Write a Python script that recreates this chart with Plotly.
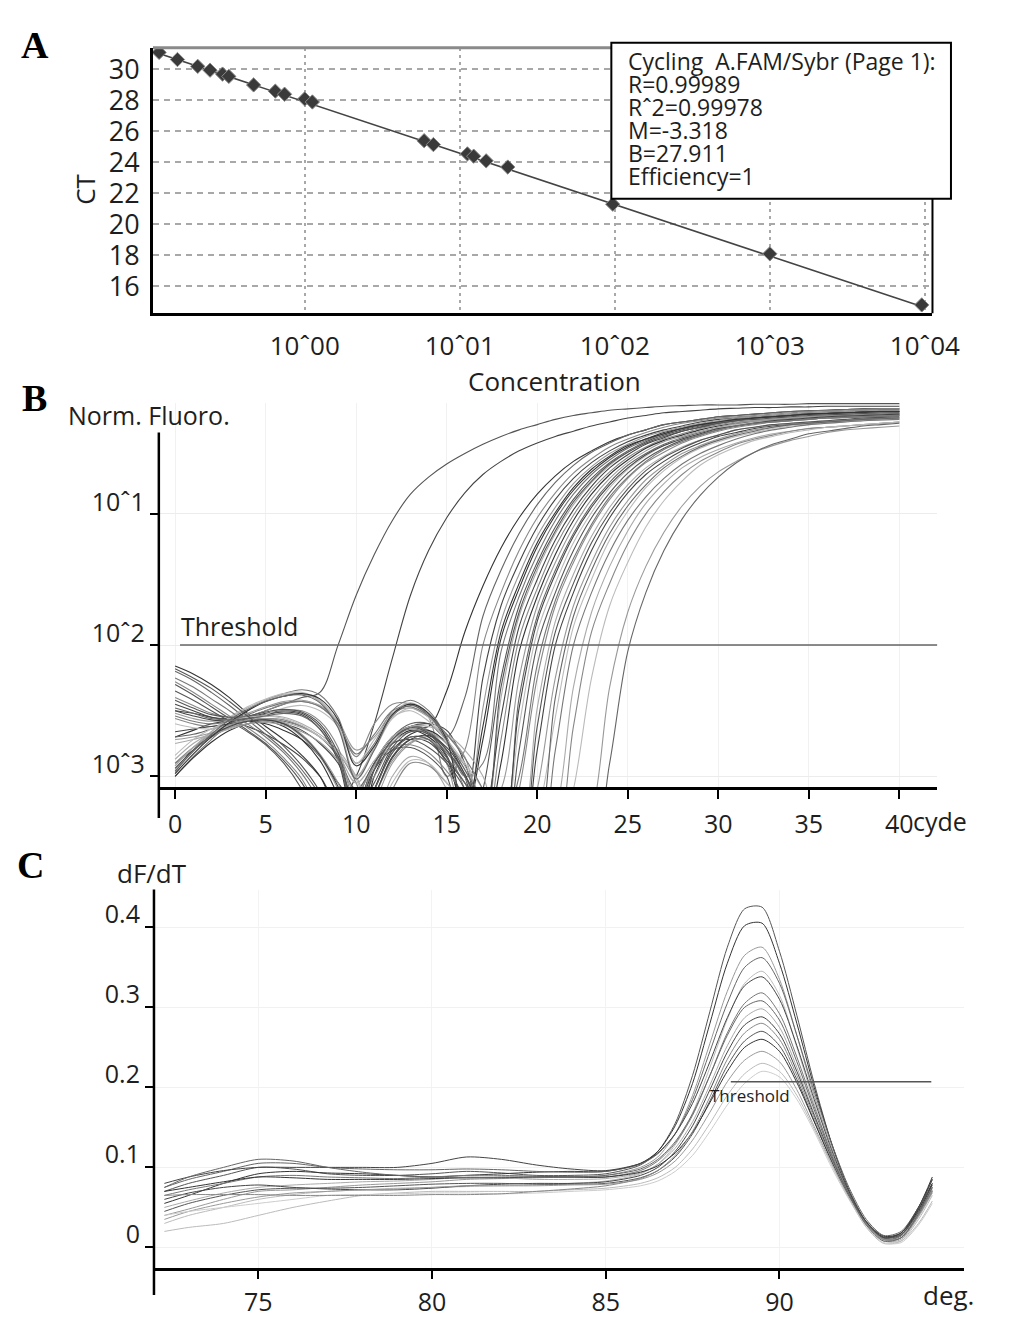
import numpy as np
import plotly.graph_objects as go

# ---------------- Panel A: standard curve ----------------
std_conc = [0.115, 0.151, 0.204, 0.245, 0.295, 0.324, 0.468, 0.646, 0.741, 1.0, 1.12,
            5.89, 6.76, 11.2, 12.3, 14.8, 20.4, 97, 1000, 9550]
std_ct = [31.1, 30.64, 30.2, 29.95, 29.7, 29.55, 29.0, 28.6, 28.4, 28.1, 27.9,
          25.4, 25.15, 24.55, 24.4, 24.1, 23.7, 21.3, 18.1, 14.8]
fit_m = -3.318
fit_b = 27.911
fit_span = [0.105, 9550]
conc_ticks = [1, 10, 100, 1000, 10000]
conc_labels = ["10ˆ00", "10ˆ01", "10ˆ02", "10ˆ03", "10ˆ04"]
ct_ticks = [16, 18, 20, 22, 24, 26, 28, 30]
info_lines = ["Cycling  A.FAM/Sybr (Page 1):", "R=0.99989", "Rˆ2=0.99978",
              "M=-3.318", "B=27.911", "Efficiency=1"]

# ---------------- Panel B: amplification curves (log10 of norm. fluoro, cycles 0..40) ----------------
amp_01 = [-2.9, -2.8, -2.7, -2.62, -2.55, -2.5, -2.45, -2.4, -2.36, -2.0, -1.62, -1.31, -1.05, -0.85, -0.72, -0.62, -0.54,
          -0.47, -0.41, -0.36, -0.32, -0.28, -0.25, -0.23, -0.21, -0.2, -0.19, -0.18, -0.175, -0.17, -0.17, -0.17,
          -0.165, -0.165, -0.165, -0.16, -0.16, -0.16, -0.16, -0.16, -0.16]
amp_02 = [-2.5, -2.52, -2.55, -2.58, -2.62, -2.68, -2.76, -2.86, -3.0, -3.2, -3.0, -2.6, -2.1, -1.62, -1.28, -1.03, -0.84,
          -0.7, -0.6, -0.52, -0.46, -0.41, -0.37, -0.33, -0.3, -0.27, -0.25, -0.23, -0.22, -0.21, -0.2, -0.195,
          -0.19, -0.19, -0.185, -0.185, -0.18, -0.18, -0.18, -0.18, -0.18]
amp_03 = [-2.7, -2.65, -2.6, -2.58, -2.58, -2.6, -2.65, -2.72, -2.85, -3.05, -3.2, -2.9, -2.7, -2.62, -2.62, -2.35, -1.9,
          -1.55, -1.26, -1.03, -0.85, -0.71, -0.6, -0.52, -0.45, -0.4, -0.36, -0.32, -0.3, -0.28, -0.26, -0.25,
          -0.24, -0.23, -0.22, -0.215, -0.21, -0.205, -0.2, -0.2, -0.2]
amp_04 = [-2.7, -2.68, -2.64, -2.6, -2.56, -2.56, -2.58, -2.62, -2.7, -2.85, -3.1, -2.9, -2.7, -2.6, -2.6, -2.7, -2.4,
          -1.78, -1.43, -1.15, -0.93, -0.76, -0.63, -0.53, -0.46, -0.4, -0.36, -0.32, -0.3, -0.28, -0.26, -0.25,
          -0.24, -0.23, -0.22, -0.215, -0.21, -0.205, -0.2, -0.2, -0.2]
amp_05 = [-2.56, -2.6, -2.62, -2.6, -2.55, -2.5, -2.45, -2.43, -2.47, -2.6, -2.85, -2.6, -2.45, -2.45, -2.55, -3.0, -2.8,
          -2.0, -1.6, -1.28, -1.03, -0.84, -0.69, -0.58, -0.49, -0.43, -0.38, -0.34, -0.31, -0.29, -0.27, -0.26,
          -0.25, -0.24, -0.23, -0.22, -0.215, -0.21, -0.205, -0.2, -0.2]
amp_06 = [-2.45, -2.5, -2.55, -2.56, -2.55, -2.52, -2.5, -2.52, -2.62, -2.85, -3.3, -3.1, -2.8, -2.7, -2.72, -2.9, -3.2,
          -2.25, -1.7, -1.37, -1.1, -0.89, -0.73, -0.61, -0.52, -0.45, -0.4, -0.36, -0.33, -0.3, -0.28, -0.27,
          -0.26, -0.25, -0.24, -0.23, -0.225, -0.22, -0.215, -0.21, -0.21]
amp_07 = [-2.97, -2.8, -2.7, -2.62, -2.58, -2.56, -2.6, -2.7, -2.85, -3.1, -3.4, -3.2, -2.9, -2.75, -2.7, -2.9, -3.4,
          -2.48, -1.82, -1.46, -1.17, -0.95, -0.77, -0.64, -0.54, -0.47, -0.41, -0.37, -0.34, -0.31, -0.29, -0.27,
          -0.26, -0.25, -0.24, -0.23, -0.225, -0.22, -0.215, -0.21, -0.21]
amp_08 = [-2.16, -2.22, -2.3, -2.4, -2.52, -2.62, -2.72, -2.84, -3.0, -3.3, -3.5, -3.0, -2.75, -2.65, -2.7, -2.85, -3.3,
          -2.72, -1.95, -1.57, -1.25, -1.01, -0.82, -0.68, -0.57, -0.49, -0.43, -0.38, -0.35, -0.32, -0.3, -0.28,
          -0.27, -0.26, -0.25, -0.24, -0.235, -0.23, -0.225, -0.22, -0.22]
amp_09 = [-3.0, -2.85, -2.72, -2.6, -2.5, -2.42, -2.37, -2.34, -2.38, -2.55, -2.9, -2.75, -2.5, -2.42, -2.5, -2.7, -3.0,
          -2.9, -2.05, -1.63, -1.31, -1.05, -0.85, -0.7, -0.59, -0.5, -0.44, -0.39, -0.35, -0.32, -0.3, -0.28,
          -0.27, -0.26, -0.25, -0.24, -0.235, -0.23, -0.225, -0.22, -0.22]
amp_10 = [-2.3, -2.38, -2.47, -2.56, -2.65, -2.75, -2.88, -3.05, -3.3, -3.5, -3.3, -2.95, -2.8, -2.78, -2.85, -3.0, -3.5,
          -3.1, -2.25, -1.7, -1.37, -1.1, -0.89, -0.73, -0.61, -0.52, -0.45, -0.4, -0.36, -0.33, -0.31, -0.29,
          -0.27, -0.26, -0.25, -0.24, -0.235, -0.23, -0.225, -0.22, -0.22]
amp_11 = [-2.87, -2.75, -2.67, -2.6, -2.56, -2.54, -2.55, -2.6, -2.68, -2.8, -3.0, -3.3, -3.0, -2.85, -2.9, -3.1, -3.5,
          -3.4, -2.4, -1.78, -1.43, -1.15, -0.93, -0.76, -0.63, -0.53, -0.46, -0.41, -0.37, -0.34, -0.31, -0.29,
          -0.28, -0.27, -0.26, -0.25, -0.245, -0.24, -0.235, -0.23, -0.23]
amp_12 = [-2.66, -2.64, -2.62, -2.6, -2.58, -2.57, -2.6, -2.65, -2.75, -2.9, -3.2, -2.95, -2.72, -2.62, -2.6, -2.65, -2.9,
          -3.3, -2.55, -1.86, -1.5, -1.2, -0.97, -0.79, -0.65, -0.55, -0.47, -0.42, -0.37, -0.34, -0.31, -0.29,
          -0.27, -0.26, -0.25, -0.24, -0.235, -0.23, -0.225, -0.22, -0.22]
amp_13 = [-2.4, -2.46, -2.52, -2.55, -2.55, -2.53, -2.5, -2.5, -2.58, -2.78, -3.2, -3.0, -2.75, -2.62, -2.65, -2.8, -3.1,
          -3.5, -2.72, -1.95, -1.57, -1.25, -1.01, -0.82, -0.68, -0.57, -0.49, -0.43, -0.39, -0.35, -0.32, -0.3,
          -0.29, -0.28, -0.27, -0.26, -0.25, -0.245, -0.24, -0.235, -0.23]
amp_14 = [-3.0, -2.86, -2.74, -2.65, -2.6, -2.58, -2.62, -2.72, -2.88, -3.15, -3.5, -3.1, -2.82, -2.68, -2.65, -2.75, -3.0,
          -3.5, -2.9, -2.05, -1.63, -1.31, -1.05, -0.85, -0.7, -0.59, -0.5, -0.44, -0.4, -0.36, -0.33, -0.31,
          -0.3, -0.29, -0.28, -0.27, -0.26, -0.25, -0.245, -0.24, -0.24]
amp_15 = [-2.52, -2.56, -2.58, -2.56, -2.52, -2.47, -2.43, -2.42, -2.46, -2.58, -2.8, -2.7, -2.52, -2.48, -2.55, -2.68, -2.85,
          -3.3, -3.1, -2.25, -1.7, -1.37, -1.1, -0.89, -0.73, -0.61, -0.52, -0.45, -0.41, -0.37, -0.34, -0.31,
          -0.29, -0.28, -0.27, -0.26, -0.25, -0.245, -0.24, -0.235, -0.23]
amp_16 = [-2.2, -2.27, -2.36, -2.46, -2.57, -2.68, -2.8, -2.95, -3.15, -3.5, -3.3, -2.9, -2.7, -2.62, -2.66, -2.8, -3.0,
          -3.4, -3.4, -2.4, -1.78, -1.43, -1.15, -0.93, -0.76, -0.63, -0.54, -0.47, -0.42, -0.38, -0.35, -0.32,
          -0.3, -0.29, -0.28, -0.27, -0.26, -0.255, -0.25, -0.245, -0.24]
amp_17 = [-2.95, -2.8, -2.66, -2.55, -2.47, -2.41, -2.37, -2.36, -2.42, -2.6, -3.0, -2.8, -2.56, -2.48, -2.55, -2.75, -3.0,
          -3.3, -3.5, -2.62, -1.9, -1.53, -1.22, -0.99, -0.8, -0.66, -0.56, -0.48, -0.43, -0.39, -0.35, -0.32,
          -0.3, -0.29, -0.28, -0.27, -0.26, -0.255, -0.25, -0.245, -0.24]
amp_18 = [-2.35, -2.42, -2.5, -2.58, -2.66, -2.76, -2.9, -3.1, -3.4, -3.5, -3.2, -2.9, -2.75, -2.72, -2.78, -2.9, -3.1,
          -3.5, -3.6, -2.8, -2.0, -1.6, -1.28, -1.03, -0.84, -0.69, -0.58, -0.5, -0.44, -0.4, -0.36, -0.33,
          -0.31, -0.3, -0.29, -0.28, -0.27, -0.265, -0.26, -0.255, -0.25]
amp_19 = [-2.9, -2.78, -2.7, -2.63, -2.58, -2.56, -2.57, -2.62, -2.7, -2.82, -3.05, -3.4, -3.1, -2.9, -2.92, -3.05, -3.2,
          -3.5, -3.6, -3.1, -2.25, -1.7, -1.37, -1.1, -0.89, -0.73, -0.61, -0.53, -0.46, -0.41, -0.37, -0.34,
          -0.32, -0.3, -0.29, -0.28, -0.27, -0.265, -0.26, -0.255, -0.25]
amp_20 = [-2.75, -2.72, -2.68, -2.64, -2.6, -2.58, -2.59, -2.63, -2.7, -2.83, -3.05, -2.88, -2.7, -2.62, -2.62, -2.68, -2.8,
          -3.0, -3.4, -3.4, -2.48, -1.82, -1.46, -1.17, -0.95, -0.78, -0.65, -0.56, -0.49, -0.44, -0.4, -0.36,
          -0.34, -0.32, -0.31, -0.3, -0.29, -0.28, -0.27, -0.265, -0.26]
amp_21 = [-2.5, -2.54, -2.57, -2.58, -2.56, -2.53, -2.51, -2.53, -2.64, -2.88, -3.35, -3.15, -2.85, -2.72, -2.74, -2.88, -3.05,
          -3.3, -3.5, -3.6, -2.8, -2.0, -1.6, -1.28, -1.03, -0.84, -0.7, -0.6, -0.52, -0.46, -0.41, -0.38,
          -0.35, -0.33, -0.32, -0.31, -0.3, -0.29, -0.28, -0.275, -0.27]
amp_22 = [-2.92, -2.78, -2.68, -2.61, -2.57, -2.56, -2.59, -2.68, -2.83, -3.05, -3.35, -3.15, -2.88, -2.74, -2.72, -2.82, -3.0,
          -3.3, -3.5, -3.6, -3.1, -2.25, -1.7, -1.37, -1.1, -0.9, -0.74, -0.63, -0.54, -0.48, -0.43, -0.39,
          -0.36, -0.34, -0.32, -0.31, -0.3, -0.29, -0.28, -0.275, -0.27]
amp_23 = [-2.6, -2.63, -2.64, -2.62, -2.58, -2.53, -2.48, -2.46, -2.5, -2.62, -2.9, -2.72, -2.55, -2.5, -2.58, -2.72, -2.9,
          -3.1, -3.4, -3.6, -3.3, -2.55, -1.86, -1.5, -1.2, -0.98, -0.8, -0.67, -0.57, -0.5, -0.45, -0.41,
          -0.38, -0.35, -0.33, -0.32, -0.31, -0.3, -0.29, -0.285, -0.28]
amp_24 = [-2.25, -2.32, -2.41, -2.5, -2.6, -2.7, -2.82, -2.98, -3.2, -3.5, -3.35, -2.95, -2.72, -2.64, -2.68, -2.82, -3.0,
          -3.2, -3.45, -3.6, -3.6, -2.8, -2.0, -1.6, -1.29, -1.05, -0.87, -0.73, -0.62, -0.54, -0.48, -0.43,
          -0.39, -0.36, -0.34, -0.32, -0.31, -0.3, -0.29, -0.285, -0.28]
amp_25 = [-2.92, -2.78, -2.66, -2.56, -2.48, -2.42, -2.38, -2.37, -2.43, -2.62, -3.0, -2.78, -2.52, -2.44, -2.52, -2.72, -2.95,
          -3.2, -3.5, -3.6, -3.6, -3.3, -2.32, -1.75, -1.4, -1.13, -0.92, -0.77, -0.65, -0.57, -0.51, -0.46,
          -0.42, -0.39, -0.37, -0.35, -0.34, -0.33, -0.32, -0.31, -0.3]
amp_26 = [-2.28, -2.36, -2.45, -2.54, -2.63, -2.73, -2.86, -3.02, -3.28, -3.5, -3.3, -2.92, -2.78, -2.76, -2.82, -2.96, -3.15,
          -3.4, -3.6, -3.6, -3.6, -3.5, -2.62, -1.9, -1.53, -1.23, -1.0, -0.83, -0.7, -0.6, -0.53, -0.47,
          -0.43, -0.4, -0.37, -0.35, -0.34, -0.33, -0.32, -0.31, -0.3]
amp_27 = [-2.84, -2.72, -2.64, -2.58, -2.55, -2.54, -2.56, -2.61, -2.7, -2.82, -3.02, -3.35, -3.05, -2.88, -2.9, -3.05, -3.25,
          -3.5, -3.6, -3.6, -3.6, -3.6, -3.1, -2.25, -1.7, -1.37, -1.1, -0.9, -0.75, -0.63, -0.55, -0.49,
          -0.44, -0.41, -0.38, -0.36, -0.34, -0.33, -0.32, -0.31, -0.3]
amp_28 = [-2.72, -2.7, -2.67, -2.63, -2.6, -2.59, -2.61, -2.66, -2.74, -2.88, -3.12, -2.92, -2.74, -2.66, -2.66, -2.75, -2.92,
          -3.2, -3.5, -3.6, -3.6, -3.6, -3.6, -3.3, -2.32, -1.75, -1.4, -1.14, -0.94, -0.79, -0.68, -0.6,
          -0.53, -0.48, -0.44, -0.41, -0.38, -0.36, -0.35, -0.34, -0.33]
amp_29 = [-2.48, -2.52, -2.56, -2.57, -2.56, -2.54, -2.52, -2.54, -2.64, -2.86, -3.3, -3.1, -2.82, -2.7, -2.72, -2.86, -3.05,
          -3.3, -3.6, -3.6, -3.6, -3.6, -3.6, -3.6, -2.9, -2.05, -1.6, -1.28, -1.04, -0.86, -0.72, -0.61,
          -0.53, -0.47, -0.43, -0.39, -0.37, -0.35, -0.33, -0.32, -0.31]
amp_30 = [-2.98, -2.83, -2.7, -2.59, -2.5, -2.43, -2.39, -2.37, -2.41, -2.57, -2.92, -2.77, -2.53, -2.45, -2.52, -2.72, -3.3,
          -2.62, -1.9, -1.53, -1.22, -0.99, -0.8, -0.66, -0.56, -0.48, -0.43, -0.39, -0.35, -0.32, -0.3, -0.28,
          -0.27, -0.26, -0.25, -0.24, -0.235, -0.23, -0.225, -0.22, -0.22]
amp_31 = [-2.42, -2.48, -2.53, -2.55, -2.54, -2.51, -2.49, -2.51, -2.6, -2.82, -3.25, -3.05, -2.78, -2.66, -2.68, -2.84, -3.2,
          -3.3, -2.32, -1.75, -1.4, -1.13, -0.91, -0.75, -0.62, -0.53, -0.46, -0.41, -0.37, -0.34, -0.31, -0.29,
          -0.28, -0.27, -0.26, -0.25, -0.245, -0.24, -0.235, -0.23, -0.23]
amp_32 = [-2.94, -2.8, -2.69, -2.62, -2.58, -2.57, -2.6, -2.69, -2.84, -3.08, -3.4, -3.15, -2.86, -2.72, -2.69, -2.78, -2.98,
          -3.3, -3.4, -2.48, -1.82, -1.46, -1.17, -0.95, -0.78, -0.65, -0.55, -0.48, -0.43, -0.39, -0.35, -0.33,
          -0.31, -0.29, -0.28, -0.27, -0.26, -0.255, -0.25, -0.245, -0.24]
amp_33 = [-2.54, -2.58, -2.6, -2.58, -2.53, -2.48, -2.44, -2.43, -2.47, -2.6, -2.83, -2.68, -2.5, -2.47, -2.54, -2.68, -2.86,
          -3.1, -3.4, -3.0, -2.15, -1.66, -1.34, -1.08, -0.87, -0.72, -0.6, -0.51, -0.45, -0.4, -0.36, -0.33,
          -0.31, -0.3, -0.29, -0.28, -0.27, -0.265, -0.26, -0.255, -0.25]
amp_34 = [-2.18, -2.25, -2.33, -2.43, -2.54, -2.65, -2.77, -2.92, -3.12, -3.45, -3.4, -2.95, -2.72, -2.63, -2.67, -2.8, -3.0,
          -3.25, -3.5, -3.5, -2.62, -1.9, -1.53, -1.22, -0.99, -0.81, -0.67, -0.57, -0.5, -0.44, -0.4, -0.36,
          -0.34, -0.32, -0.31, -0.3, -0.29, -0.28, -0.27, -0.265, -0.26]
amp_35 = [-2.96, -2.81, -2.68, -2.57, -2.49, -2.43, -2.39, -2.38, -2.44, -2.63, -3.02, -2.8, -2.54, -2.46, -2.53, -2.73, -2.95,
          -3.2, -3.5, -3.6, -3.45, -2.4, -1.78, -1.43, -1.15, -0.94, -0.78, -0.65, -0.56, -0.49, -0.44, -0.4,
          -0.37, -0.34, -0.32, -0.31, -0.3, -0.29, -0.28, -0.275, -0.27]
amp_curves = [amp_01, amp_02, amp_03, amp_04, amp_05, amp_06, amp_07, amp_08, amp_09, amp_10,
              amp_11, amp_12, amp_13, amp_14, amp_15, amp_16, amp_17, amp_18, amp_19, amp_20,
              amp_21, amp_22, amp_23, amp_24, amp_25, amp_26, amp_27, amp_28, amp_29, amp_30,
              amp_31, amp_32, amp_33, amp_34, amp_35]
amp_colors = ["#555", "#444", "#333", "#666", "#888", "#444", "#999", "#333", "#777", "#555",
              "#aaa", "#444", "#888", "#333", "#999", "#666", "#bbb", "#555", "#888", "#aaa",
              "#444", "#999", "#bbb", "#777", "#aaa", "#888", "#bbb", "#999", "#666", "#333",
              "#555", "#444", "#777", "#555", "#666"]
amp_threshold = 0.01
amp_threshold_from = 0.27
fluoro_ticks = [0.1, 0.01, 0.001]
fluoro_labels = ["10ˆ1", "10ˆ2", "10ˆ3"]
cycle_ticks = [0, 5, 10, 15, 20, 25, 30, 35, 40]

# ---------------- Panel C: melt curves ----------------
melt_temp = [72.3, 73, 74, 75, 76, 77, 78, 79, 80, 81, 82, 83, 84, 85, 86, 86.5, 87, 87.5, 88, 88.5,
             89, 89.5, 90, 90.5, 91, 91.5, 92, 92.5, 93, 93.5, 94, 94.4]
melt_01 = [0.07, 0.08, 0.09, 0.1, 0.098, 0.092, 0.09, 0.09, 0.092, 0.095, 0.093, 0.09, 0.09, 0.092, 0.103, 0.12,
           0.155, 0.215, 0.295, 0.375, 0.423, 0.425, 0.37, 0.29, 0.205, 0.13, 0.07, 0.03, 0.01, 0.015, 0.048, 0.085]
melt_02 = [0.055, 0.065, 0.08, 0.092, 0.095, 0.093, 0.092, 0.09, 0.088, 0.09, 0.092, 0.094, 0.095, 0.095, 0.105, 0.12,
           0.152, 0.205, 0.28, 0.355, 0.402, 0.405, 0.355, 0.28, 0.2, 0.13, 0.072, 0.032, 0.012, 0.018, 0.05, 0.088]
melt_03 = [0.04, 0.048, 0.06, 0.07, 0.072, 0.075, 0.078, 0.08, 0.082, 0.085, 0.086, 0.087, 0.088, 0.09, 0.1, 0.113,
           0.142, 0.19, 0.255, 0.32, 0.365, 0.375, 0.335, 0.265, 0.19, 0.125, 0.07, 0.03, 0.01, 0.012, 0.04, 0.07]
melt_04 = [0.075, 0.085, 0.095, 0.105, 0.105, 0.1, 0.098, 0.097, 0.097, 0.098, 0.097, 0.095, 0.094, 0.095, 0.104, 0.117,
           0.142, 0.185, 0.245, 0.305, 0.35, 0.362, 0.33, 0.265, 0.195, 0.13, 0.075, 0.035, 0.015, 0.02, 0.05, 0.08]
melt_05 = [0.03, 0.04, 0.05, 0.06, 0.066, 0.07, 0.072, 0.074, 0.075, 0.076, 0.077, 0.078, 0.08, 0.083, 0.092, 0.104,
           0.128, 0.168, 0.225, 0.285, 0.33, 0.345, 0.315, 0.25, 0.18, 0.115, 0.062, 0.025, 0.005, 0.008, 0.035, 0.065]
melt_06 = [0.065, 0.072, 0.08, 0.088, 0.09, 0.088, 0.087, 0.086, 0.088, 0.09, 0.09, 0.089, 0.088, 0.088, 0.096, 0.108,
           0.13, 0.165, 0.215, 0.268, 0.305, 0.318, 0.292, 0.238, 0.176, 0.118, 0.068, 0.03, 0.01, 0.014, 0.042, 0.072]
melt_07 = [0.05, 0.058, 0.068, 0.075, 0.078, 0.08, 0.082, 0.083, 0.085, 0.088, 0.087, 0.085, 0.085, 0.086, 0.093, 0.104,
           0.124, 0.157, 0.203, 0.252, 0.287, 0.298, 0.275, 0.225, 0.167, 0.112, 0.065, 0.028, 0.008, 0.01, 0.038, 0.068]
melt_08 = [0.06, 0.068, 0.075, 0.078, 0.075, 0.073, 0.072, 0.072, 0.074, 0.077, 0.079, 0.08, 0.08, 0.082, 0.09, 0.1,
           0.12, 0.152, 0.197, 0.244, 0.278, 0.288, 0.267, 0.22, 0.165, 0.112, 0.066, 0.03, 0.012, 0.016, 0.045, 0.078]
melt_09 = [0.045, 0.055, 0.065, 0.072, 0.074, 0.074, 0.075, 0.077, 0.079, 0.08, 0.08, 0.079, 0.079, 0.08, 0.087, 0.096,
           0.113, 0.142, 0.183, 0.227, 0.258, 0.27, 0.252, 0.21, 0.158, 0.108, 0.064, 0.03, 0.012, 0.016, 0.044, 0.075]
melt_10 = [0.07, 0.075, 0.082, 0.088, 0.087, 0.085, 0.085, 0.085, 0.086, 0.087, 0.087, 0.088, 0.088, 0.088, 0.094, 0.102,
           0.118, 0.144, 0.181, 0.22, 0.25, 0.26, 0.245, 0.206, 0.157, 0.108, 0.065, 0.032, 0.014, 0.018, 0.047, 0.08]
melt_11 = [0.035, 0.045, 0.055, 0.063, 0.068, 0.07, 0.072, 0.073, 0.075, 0.077, 0.077, 0.077, 0.078, 0.079, 0.085, 0.093,
           0.108, 0.134, 0.169, 0.207, 0.234, 0.245, 0.232, 0.197, 0.151, 0.105, 0.062, 0.028, 0.01, 0.012, 0.04, 0.07]
melt_12 = [0.02, 0.025, 0.03, 0.04, 0.05, 0.058, 0.065, 0.068, 0.07, 0.07, 0.07, 0.07, 0.072, 0.074, 0.08, 0.087,
           0.1, 0.123, 0.155, 0.19, 0.217, 0.23, 0.22, 0.19, 0.148, 0.103, 0.062, 0.028, 0.008, 0.008, 0.03, 0.058]
melt_13 = [0.04, 0.045, 0.05, 0.055, 0.06, 0.065, 0.066, 0.067, 0.068, 0.068, 0.067, 0.068, 0.07, 0.072, 0.077, 0.083,
           0.095, 0.115, 0.145, 0.178, 0.205, 0.22, 0.213, 0.185, 0.145, 0.1, 0.06, 0.026, 0.006, 0.006, 0.028, 0.055]
melt_14 = [0.08, 0.088, 0.096, 0.1, 0.1, 0.1, 0.1, 0.1, 0.105, 0.113, 0.11, 0.103, 0.098, 0.096, 0.105, 0.118,
           0.142, 0.18, 0.232, 0.287, 0.327, 0.338, 0.31, 0.252, 0.185, 0.122, 0.07, 0.032, 0.013, 0.018, 0.05, 0.085]
melt_15 = [0.065, 0.066, 0.066, 0.066, 0.065, 0.065, 0.065, 0.065, 0.066, 0.066, 0.067, 0.07, 0.073, 0.077, 0.086, 0.096,
           0.115, 0.145, 0.188, 0.235, 0.268, 0.28, 0.26, 0.215, 0.162, 0.11, 0.065, 0.03, 0.01, 0.012, 0.04, 0.07]
melt_16 = [0.075, 0.088, 0.1, 0.11, 0.108, 0.1, 0.094, 0.09, 0.088, 0.087, 0.088, 0.088, 0.088, 0.09, 0.098, 0.11,
           0.132, 0.167, 0.215, 0.265, 0.3, 0.308, 0.284, 0.232, 0.172, 0.115, 0.066, 0.028, 0.008, 0.012, 0.042, 0.075]
melt_curves = [melt_01, melt_02, melt_03, melt_04, melt_05, melt_06, melt_07, melt_08,
               melt_09, melt_10, melt_11, melt_12, melt_13, melt_14, melt_15, melt_16]
melt_colors = ["#555", "#333", "#999", "#666", "#bbb", "#777", "#aaa", "#444",
               "#555", "#333", "#999", "#bbb", "#ccc", "#444", "#888", "#666"]
melt_threshold = 0.207
melt_threshold_span = [88.6, 94.37]
temp_ticks = [75, 80, 85, 90]
dfdt_ticks = [0, 0.1, 0.2, 0.3, 0.4]
dfdt_labels = ["0", "0.1", "0.2", "0.3", "0.4"]

# ---------------- figure ----------------
# page body keeps its 8px margin; keep the figure small enough that nothing scrolls
OFF = 8
W, H = 1005, 1310
FONT = "Open Sans"
INK = "#1e1e1e"


def px(x):
    return (x - OFF) / W


def py(y):
    return 1 - (y - OFF) / H


fig = go.Figure()

# A
fit_ct = [fit_b + fit_m * np.log10(c) for c in fit_span]
fig.add_trace(go.Scatter(x=fit_span, y=fit_ct, mode="lines", line=dict(color="#444", width=1.6),
                         xaxis="x", yaxis="y", hoverinfo="skip"))
fig.add_trace(go.Scatter(x=std_conc, y=std_ct, mode="markers", xaxis="x", yaxis="y",
                         marker=dict(symbol="diamond", size=11, color="#3a3a3a",
                                     line=dict(color="#8a8a8a", width=1))))

# B
for vals, col in zip(amp_curves, amp_colors):
    fig.add_trace(go.Scatter(x=list(range(len(vals))), y=[10 ** v for v in vals], mode="lines",
                             line=dict(color=col, width=1.1, shape="spline", smoothing=1),
                             xaxis="x2", yaxis="y2", hoverinfo="skip"))
fig.add_trace(go.Scatter(x=[amp_threshold_from, 42.1], y=[amp_threshold, amp_threshold], mode="lines",
                         line=dict(color="#666", width=1.5), xaxis="x2", yaxis="y2"))

# C
for vals, col in zip(melt_curves, melt_colors):
    fig.add_trace(go.Scatter(x=melt_temp, y=vals, mode="lines",
                             line=dict(color=col, width=1, shape="spline", smoothing=0.8),
                             xaxis="x3", yaxis="y3", hoverinfo="skip"))
fig.add_trace(go.Scatter(x=melt_threshold_span, y=[melt_threshold, melt_threshold], mode="lines",
                         line=dict(color="#555", width=1.5), xaxis="x3", yaxis="y3"))

tick_font = dict(family=FONT, size=25, color=INK)

fig.update_layout(
    width=W, height=H, margin=dict(l=0, r=0, t=0, b=0),
    paper_bgcolor="white", plot_bgcolor="white", showlegend=False,
    font=dict(family=FONT, color=INK),
    xaxis=dict(domain=[px(157), px(958)], anchor="y", type="log",
               range=[np.log10(0.105), np.log10(11200)],
               tickvals=conc_ticks, ticktext=conc_labels, tickfont=dict(family=FONT, size=26, color=INK),
               ticks="", ticklabelstandoff=8,
               showgrid=True, gridcolor="#a8a8a8", gridwidth=2, griddash="3px,4px",
               showline=True, linecolor="black", linewidth=3, zeroline=False),
    yaxis=dict(domain=[py(315), py(48)], anchor="x", range=[14.27, 31.4],
               tickvals=ct_ticks, tickfont=dict(family=FONT, size=27, color=INK),
               ticks="", ticklabelstandoff=5,
               showgrid=True, gridcolor="#a8a8a8", gridwidth=2, griddash="6px,5px",
               showline=True, linecolor="black", linewidth=3, zeroline=False),
    xaxis2=dict(domain=[px(163), px(963)], anchor="y2", range=[-0.9, 42.1],
                tickvals=cycle_ticks, ticktext=[str(t) for t in cycle_ticks], tickfont=tick_font,
                ticks="outside", ticklen=9, tickwidth=2, tickcolor="black", ticklabelstandoff=4,
                showgrid=True, gridcolor="#f1f1f1", gridwidth=1,
                showline=True, linecolor="black", linewidth=2.5, zeroline=False),
    yaxis2=dict(domain=[py(792), py(405)], anchor="x2", type="log", range=[-3.083, -0.152],
                tickvals=fluoro_ticks, ticktext=fluoro_labels, tickfont=tick_font,
                ticks="outside", ticklen=8, tickwidth=2, tickcolor="black", ticklabelshift=-12,
                showgrid=True, gridcolor="#ececec", gridwidth=1,
                showline=False, zeroline=False),
    xaxis3=dict(domain=[px(158), px(990)], anchor="y3", range=[72.0, 95.3],
                tickvals=temp_ticks, tickfont=tick_font,
                ticks="outside", ticklen=8, tickwidth=2, tickcolor="black", ticklabelstandoff=2,
                showgrid=True, gridcolor="#f3f3f3", gridwidth=1,
                showline=True, linecolor="black", linewidth=2.5, zeroline=False),
    yaxis3=dict(domain=[py(1276), py(895)], anchor="x3", range=[-0.026, 0.447],
                tickvals=dfdt_ticks, ticktext=dfdt_labels, tickfont=tick_font,
                ticks="outside", ticklen=8, tickwidth=2, tickcolor="black", ticklabelshift=-13,
                showgrid=True, gridcolor="#f1f1f1", gridwidth=1,
                showline=False, zeroline=False),
)

shapes = [
    # frame of panel A
    dict(type="line", xref="x domain", yref="y domain", x0=0, x1=1, y0=1, y1=1,
         line=dict(color="#8a8a8a", width=3)),
    dict(type="line", xref="x domain", yref="y domain", x0=1, x1=1, y0=0, y1=1,
         line=dict(color="black", width=2)),
    # info box of panel A
    dict(type="rect", xref="paper", yref="paper", x0=px(628), x1=px(977), y0=py(200), y1=py(43),
         line=dict(color="black", width=2), fillcolor="white", layer="above"),
    # vertical axes of B and C run below the horizontal axis
    dict(type="line", xref="paper", yref="paper", x0=px(163), x1=px(163), y0=py(823), y1=py(435),
         line=dict(color="black", width=2.5)),
    dict(type="line", xref="paper", yref="paper", x0=px(158), x1=px(158), y0=py(1303), y1=py(895),
         line=dict(color="black", width=2.5)),
]
fig.update_layout(shapes=shapes)

ann = []
for i, line in enumerate(info_lines):
    ann.append(dict(text=line, x=px(643), y=py(61 + 23.3 * i), xref="paper", yref="paper",
                    xanchor="left", yanchor="middle", showarrow=False,
                    font=dict(family=FONT, size=23, color=INK)))


def label(text, x, y, size=26, anchor="center", angle=0, family=FONT, bold=False):
    t = "<b>%s</b>" % text if bold else text
    ann.append(dict(text=t, x=px(x), y=py(y), xref="paper", yref="paper", xanchor=anchor,
                    yanchor="middle", showarrow=False, textangle=angle,
                    font=dict(family=family, size=size, color="black" if bold else INK)))


label("A", 36, 45, size=38, family="Liberation Serif", bold=True)
label("B", 35, 400, size=38, family="Liberation Serif", bold=True)
label("C", 31, 870, size=38, family="Liberation Serif", bold=True)
label("CT", 87, 190, angle=-90)
label("Concentration", 570, 383)
label("Norm. Fluoro.", 68, 418, size=25, anchor="left")
label("Threshold", 184, 630, size=25, anchor="left")
label("cyde", 936, 826, size=25, anchor="left")
label("dF/dT", 118, 878, size=26, anchor="left")
label("Threshold", 727, 1102, size=17, anchor="left")
label("deg.", 946, 1303, size=26, anchor="left")

fig.update_layout(annotations=ann)

fig.write_html("out.html")
